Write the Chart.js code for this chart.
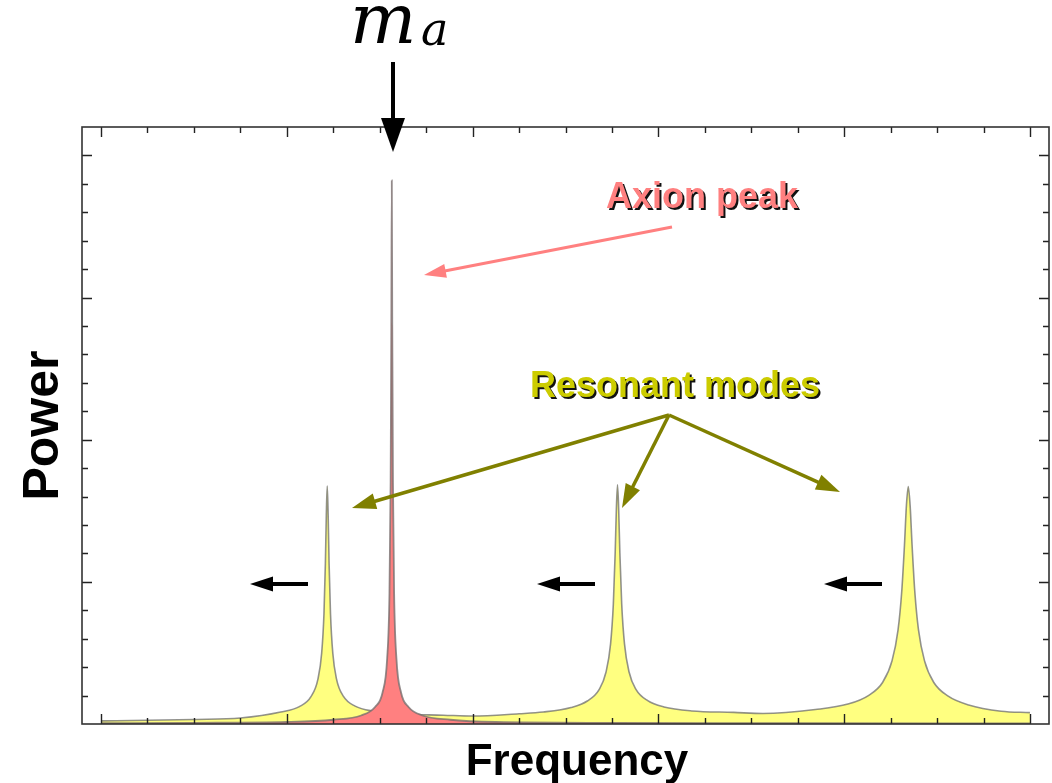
<!DOCTYPE html>
<html>
<head>
<meta charset="utf-8">
<style>
  html, body { margin: 0; padding: 0; background: #fff; }
  #wrap { width: 1052px; height: 783px; }
</style>
<script src="https://cdn.jsdelivr.net/npm/chart.js@4.4.1/dist/chart.umd.min.js"></script>
</head>
<body>
<div id="wrap"><canvas id="spectrum" width="1052" height="783"></canvas></div>
<script>
// resonant modes (yellow)
const modeX = [0, 1, 2, 3, 3.87, 4.27, 4.52, 4.67, 4.75, 4.80, 4.83, 4.85, 4.87, 4.89, 4.91, 4.94, 4.99, 5.07, 5.22, 5.47, 5.87,
  6.47, 7.37, 8.0, 9.0, 9.52, 10.12, 10.47, 10.72, 10.87, 10.97, 11.03, 11.07, 11.095, 11.12, 11.145, 11.17, 11.21, 11.27, 11.37,
  11.52, 11.77, 12.12, 12.72, 13.62, 14.25, 15.38, 16.08, 16.53, 16.83, 17.03, 17.16, 17.24, 17.30, 17.34, 17.38, 17.42, 17.46,
  17.52, 17.60, 17.73, 17.93, 18.23, 18.68, 19.38, 20];
const modePower = [0.11, 0.13, 0.16, 0.21, 0.42, 0.61, 0.96, 1.58, 2.49, 3.89, 5.64, 7.33, 8.37, 7.33, 5.64, 3.89, 2.49, 1.58, 0.97, 0.63, 0.45,
  0.35, 0.31, 0.28, 0.36, 0.42, 0.58, 0.81, 1.20, 1.81, 2.81, 4.22, 6.04, 7.55, 8.41, 7.55, 6.04, 4.22, 2.82, 1.82,
  1.21, 0.82, 0.60, 0.46, 0.41, 0.37, 0.51, 0.70, 1.01, 1.47, 2.22, 3.31, 4.67, 6.35, 7.68, 8.35, 7.68, 6.35,
  4.67, 3.31, 2.22, 1.46, 0.99, 0.67, 0.45, 0.40];

// axion peak (red)
const axionX = [0, 2, 4, 5, 5.6, 5.9, 6.06, 6.16, 6.21, 6.235, 6.25, 6.26, 6.27, 6.285, 6.31, 6.36, 6.46, 6.62, 6.92, 7.52, 8.5, 11, 15, 20];
const axionPower = [0.03, 0.04, 0.07, 0.15, 0.30, 0.60, 1.10, 2.30, 4.60, 8.50, 14.0, 19.12, 14.0, 8.50, 4.60, 2.30, 1.10, 0.60, 0.30, 0.15, 0.07, 0.04, 0.03, 0.02];

// unlabeled tick marks
const xTicks = [0, 1, 2, 3, 4, 5, 6, 7, 8, 9, 10, 11, 12, 13, 14, 15, 16, 17, 18, 19, 20];
const xMajor = [0, 4, 8, 12, 16, 20];
const yTicks = [1, 2, 3, 4, 5, 6, 7, 8, 9, 10, 11, 12, 13, 14, 15, 16, 17, 18, 19, 20];
const yMajor = [5, 10, 15, 20];

const toPoints = (xs, ys) => xs.map((x, i) => ({ x, y: ys[i] }));

function arrow(ctx, x1, y1, x2, y2, color, width, headLen, headW) {
  const ang = Math.atan2(y2 - y1, x2 - x1);
  const bx = x2 - headLen * Math.cos(ang);
  const by = y2 - headLen * Math.sin(ang);
  ctx.save();
  ctx.strokeStyle = color;
  ctx.fillStyle = color;
  ctx.lineWidth = width;
  ctx.beginPath();
  ctx.moveTo(x1, y1);
  ctx.lineTo(bx + Math.cos(ang), by + Math.sin(ang));
  ctx.stroke();
  ctx.beginPath();
  ctx.moveTo(x2, y2);
  ctx.lineTo(bx + (headW / 2) * Math.sin(ang), by - (headW / 2) * Math.cos(ang));
  ctx.lineTo(bx - (headW / 2) * Math.sin(ang), by + (headW / 2) * Math.cos(ang));
  ctx.closePath();
  ctx.fill();
  ctx.restore();
}

function shadowText(ctx, text, x, y, color) {
  ctx.fillStyle = '#111';
  ctx.fillText(text, x + 2, y + 2);
  ctx.fillStyle = color;
  ctx.fillText(text, x, y);
}

const frameAndTicks = {
  id: 'frameAndTicks',
  afterDatasetsDraw(chart) {
    const { ctx, chartArea: a, scales: { x, y } } = chart;
    ctx.save();
    ctx.strokeStyle = '#222';
    ctx.lineWidth = 1.4;
    xTicks.forEach(v => {
      const px = Math.round(x.getPixelForValue(v)) + 0.5;
      const len = xMajor.includes(v) ? 10 : 6;
      ctx.beginPath();
      ctx.moveTo(px, a.bottom); ctx.lineTo(px, a.bottom - len);
      ctx.moveTo(px, a.top); ctx.lineTo(px, a.top + len);
      ctx.stroke();
    });
    yTicks.forEach(v => {
      const py = Math.round(y.getPixelForValue(v)) + 0.5;
      const len = yMajor.includes(v) ? 10 : 6;
      ctx.beginPath();
      ctx.moveTo(a.left, py); ctx.lineTo(a.left + len, py);
      ctx.moveTo(a.right, py); ctx.lineTo(a.right - len, py);
      ctx.stroke();
    });
    ctx.lineWidth = 1.6;
    ctx.strokeStyle = '#333';
    ctx.strokeRect(a.left, a.top, a.right - a.left, a.bottom - a.top);
    ctx.restore();
  },
  afterDraw(chart) {
    const ctx = chart.ctx;
    ctx.save();
    ctx.textBaseline = 'alphabetic';

    // x axis title
    ctx.fillStyle = '#000';
    ctx.textAlign = 'center';
    ctx.font = 'bold 44px "Liberation Sans", Arial, sans-serif';
    ctx.fillText('Frequency', 577, 775);
    ctx.textAlign = 'left';

    // m_a label and arrow
    ctx.font = 'italic 70px "DejaVu Serif"';
    ctx.fillText('m', 350, 43);
    ctx.font = 'italic 46px "DejaVu Serif"';
    ctx.fillText('a', 421, 45);
    arrow(ctx, 393, 62, 393, 152, '#000', 4, 34, 24);

    // axion peak note
    ctx.font = 'bold 36px "Liberation Sans", Arial, sans-serif';
    shadowText(ctx, 'Axion peak', 606, 208, '#ff8080');
    arrow(ctx, 672, 227, 424, 275, '#ff8080', 3, 22, 14);

    // resonant modes note
    ctx.font = 'bold 36px "Liberation Sans", Arial, sans-serif';
    shadowText(ctx, 'Resonant modes', 530, 397, '#cccc00');
    arrow(ctx, 669, 415, 352, 508, '#808000', 3.5, 24, 16);
    arrow(ctx, 669, 415, 622, 508, '#808000', 3.5, 24, 16);
    arrow(ctx, 669, 415, 840, 492, '#808000', 3.5, 24, 16);

    // modes shifting down
    arrow(ctx, 308, 584, 250, 584, '#000', 4, 23, 15);
    arrow(ctx, 595, 584, 537, 584, '#000', 4, 23, 15);
    arrow(ctx, 882, 584, 824, 584, '#000', 4, 23, 15);
    ctx.restore();
  }
};

new Chart(document.getElementById('spectrum'), {
  type: 'line',
  data: {
    datasets: [
      {
        label: 'Axion peak',
        data: toPoints(axionX, axionPower),
        order: 1,
        fill: 'origin',
        backgroundColor: '#ff8080',
        borderColor: 'rgba(120,110,110,0.8)',
        borderWidth: 1.8,
        pointRadius: 0,
        cubicInterpolationMode: 'monotone'
      },
      {
        label: 'Resonant modes',
        data: toPoints(modeX, modePower),
        order: 2,
        fill: 'origin',
        backgroundColor: '#ffff80',
        borderColor: 'rgba(110,110,110,0.75)',
        borderWidth: 1.6,
        pointRadius: 0,
        cubicInterpolationMode: 'monotone'
      }
    ]
  },
  options: {
    responsive: false,
    animation: false,
    devicePixelRatio: 1,
    layout: { padding: { top: 127, right: 3, left: 0, bottom: 0 } },
    plugins: { legend: { display: false }, tooltip: { enabled: false } },
    scales: {
      x: {
        type: 'linear',
        min: -0.41,
        max: 20.41,
        grid: { display: false },
        border: { display: false },
        ticks: { display: false },
        afterFit(scale) { scale.height = 59; }
      },
      y: {
        min: 0,
        max: 21,
        grid: { display: false },
        border: { display: false },
        ticks: { display: false },
        title: {
          display: true,
          text: 'Power',
          color: '#000',
          padding: { top: 14, bottom: 0 },
          font: { family: '"Liberation Sans", Arial, sans-serif', size: 50, weight: 'bold', lineHeight: 1.2 }
        },
        afterFit(scale) { scale.width = 82; }
      }
    }
  },
  plugins: [frameAndTicks]
});
</script>
</body>
</html>
